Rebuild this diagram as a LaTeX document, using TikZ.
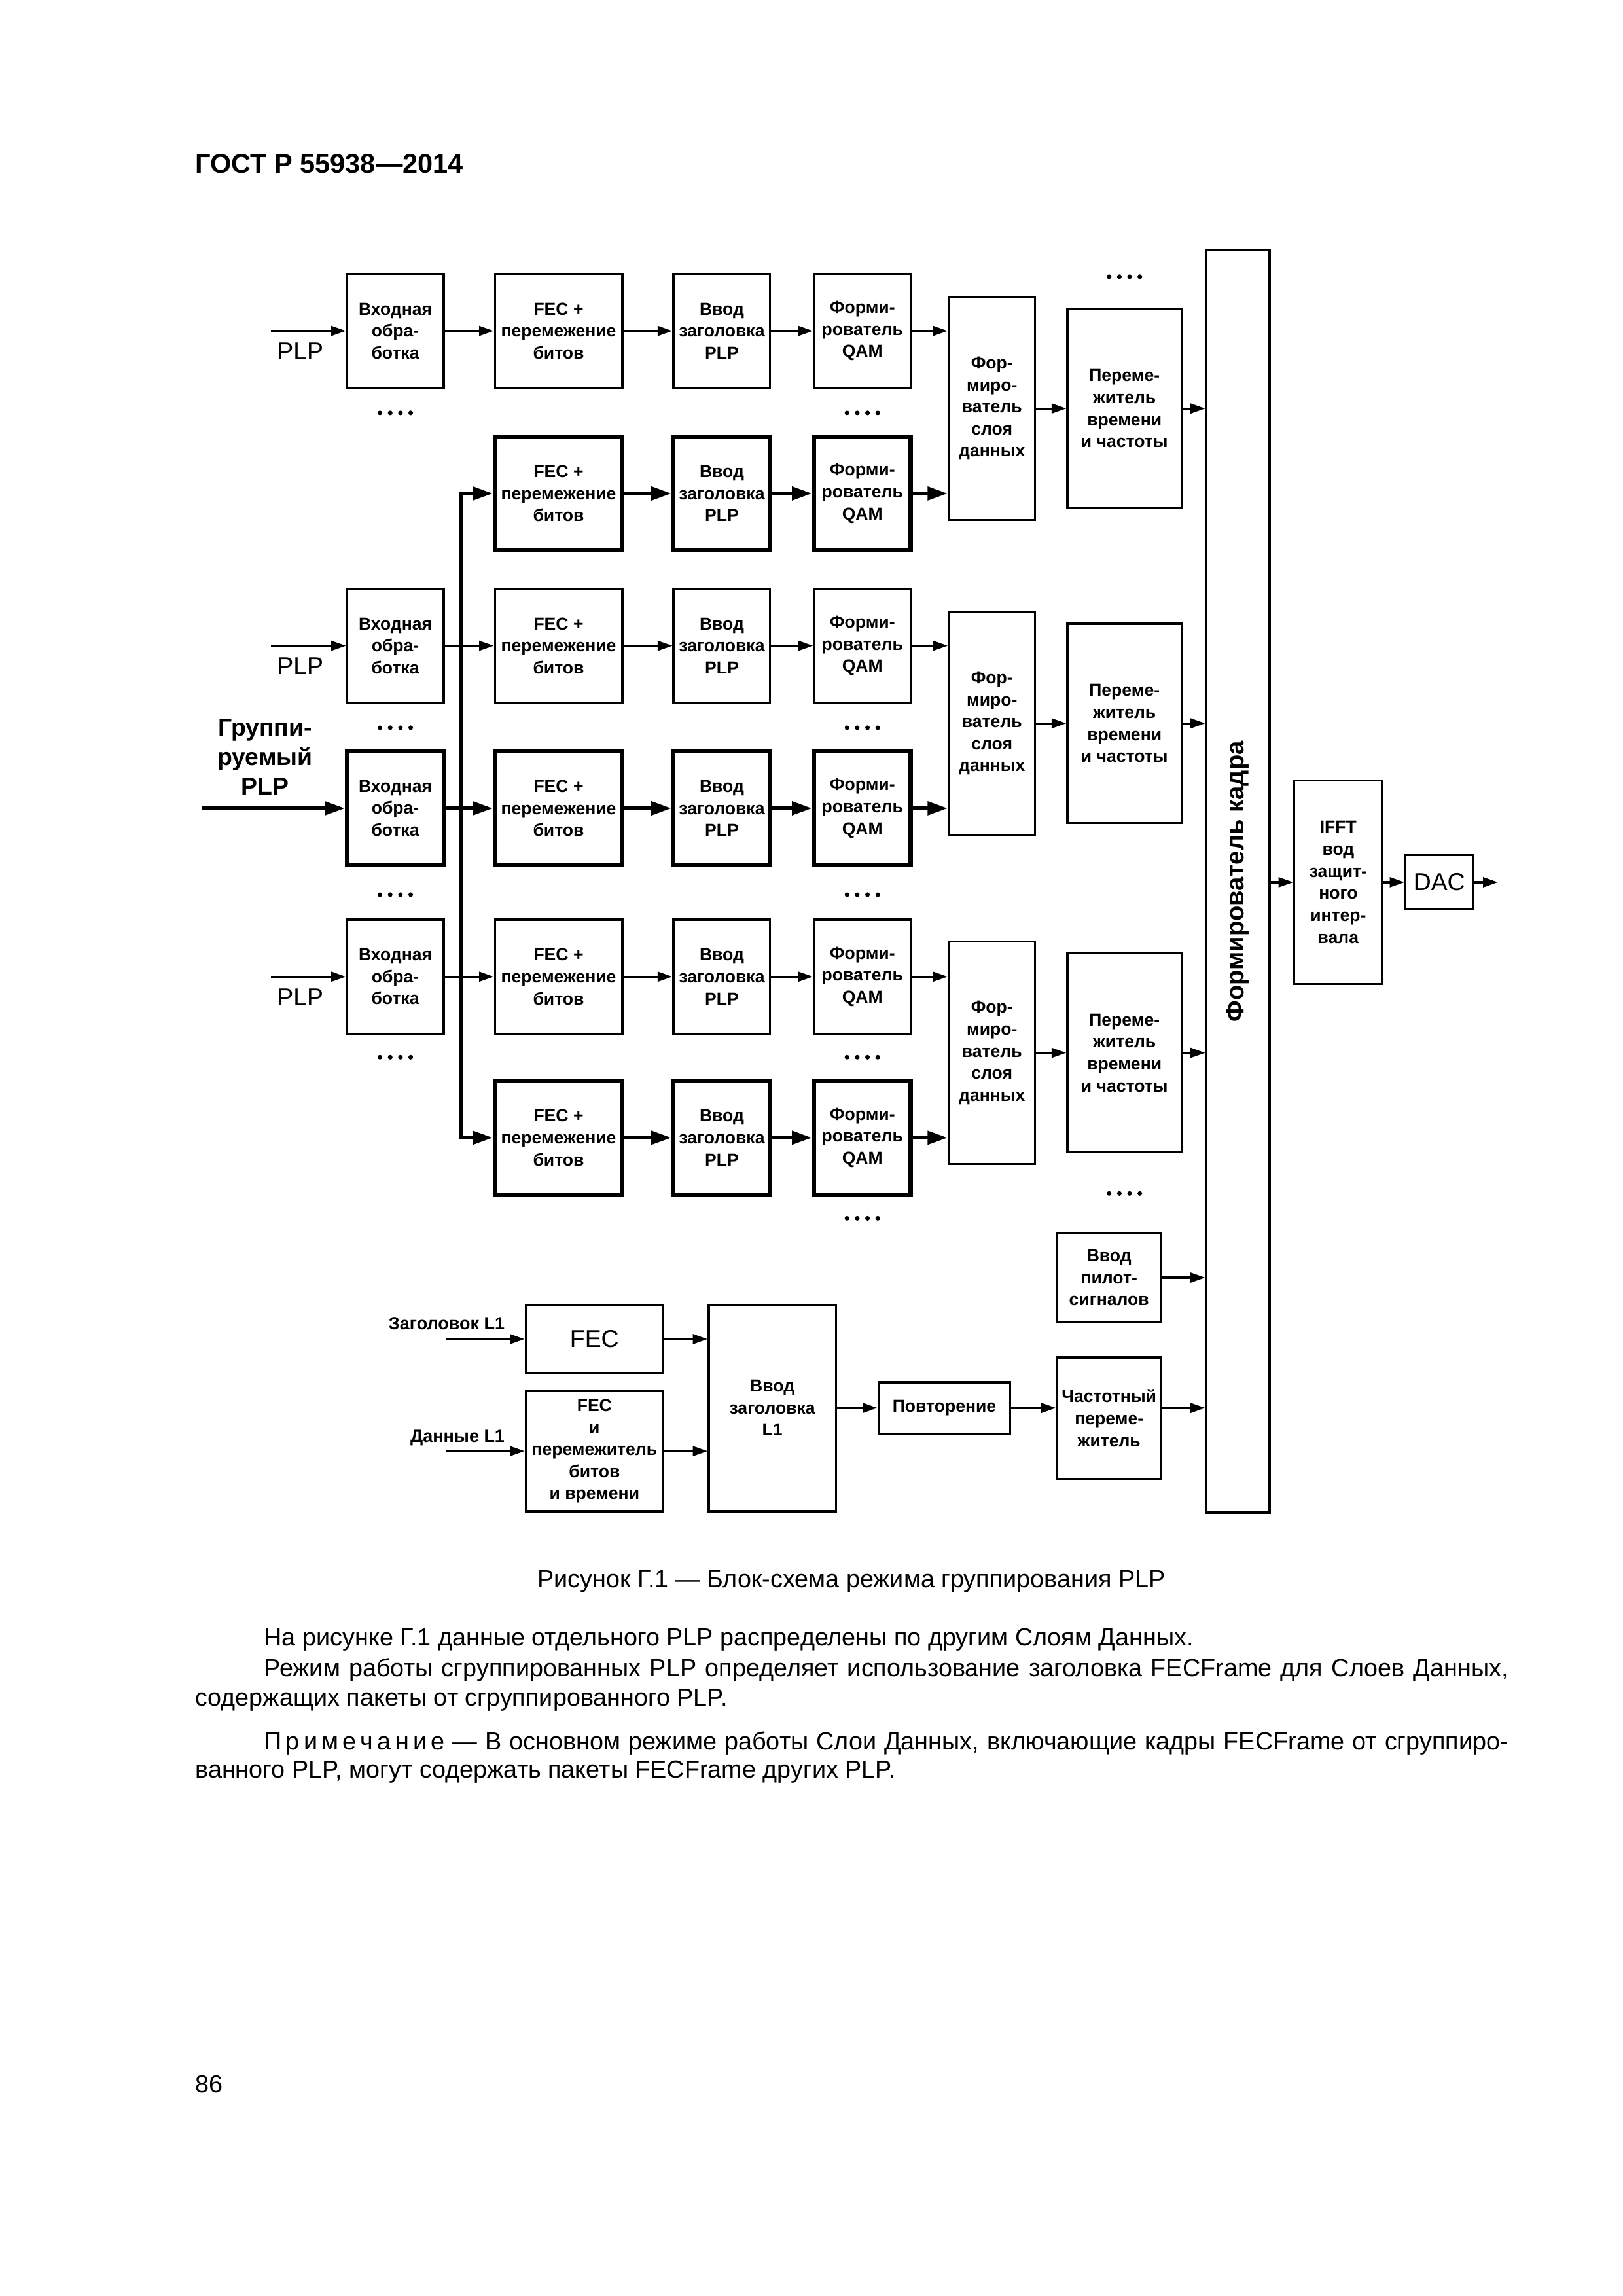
\documentclass[tikz,border=0pt]{standalone}
\usepackage{fontspec}
\setmainfont{Liberation Sans}
\usetikzlibrary{arrows.meta,positioning}

\newcommand{\du}{0.18945mm}
\newcommand{\fourdots}[2]{\foreach \k in {-1.5,-0.5,0.5,1.5} \fill ({#1+\k*7},#2) circle[radius=0.3mm];}

\tikzset{
  blk/.style 2 args={draw, line width=0.8pt, minimum width=#1*\du, minimum height=#2*\du,
    inner sep=0pt, align=center, font=\fontsize{6.4}{8.1}\selectfont\bfseries},
  arr/.style={line width=0.8pt, -{Triangle[length=0.97mm 3.33, width=0.65mm 2.14]}},
  txt/.style={inner sep=0pt, font=\fontsize{9.1}{11}\selectfont},
}

\begin{document}
\begin{tikzpicture}[x=\du,y=-\du]
    \useasboundingbox (0,0) rectangle (1108.5,1568);
    \node[anchor=west, inner sep=0pt, font=\fontsize{10}{12}\selectfont\bfseries] (title) at (133,112) {ГОСТ Р 55938—2014};

    % input processing blocks
    \foreach \r/\yy/\lw in {1/226/0.8pt,3/441/0.8pt,4/552/1.5pt,5/667/0.8pt}
        \node[blk={66}{78}, line width=\lw] (A\r) at (270,\yy) {Входная\\обра-\\ботка};
    % FEC, header insertion and QAM in every row
    \foreach \r/\yy/\lw in {1/226/0.8pt,2/337/1.5pt,3/441/0.8pt,4/552/1.5pt,5/667/0.8pt,6/777/1.5pt} {
        \node[blk={87}{78}, line width=\lw] (B\r) at (381.5,\yy) {FEC +\\перемежение\\битов};
        \node[blk={66}{78}, line width=\lw] (C\r) at (493,\yy) {Ввод\\заголовка\\PLP};
        \node[blk={66}{78}, line width=\lw] (D\r) at (589,\yy) {Форми-\\рователь\\QAM};
    }
    % data slice builders and interleavers
    \foreach \e/\yy in {1/279,2/494,3/719} {
        \node[blk={59}{152}] (E\e) at (677.5,\yy) {Фор-\\миро-\\ватель\\слоя\\данных};
        \node[blk={78}{136}] (F\e) at (768,\yy) {Переме-\\житель\\времени\\и частоты};
    }

    \node[draw, line width=0.9pt, minimum width=43*\du, minimum height=862*\du] (frame) at (845.5,602) {};
    \node[rotate=90, font=\fontsize{9.2}{11}\selectfont\bfseries] (frametxt) at (frame.center) {Формирователь кадра};
    \node[blk={60}{139}] (ifft) at (914,602.5) {IFFT\\вод\\защит-\\ного\\интер-\\вала};
    \node[blk={46}{37}, font=\fontsize{9}{11}\selectfont] (dac) at (983,602.5) {DAC};
    \coordinate (out) at (1023,602.5);

    % inputs
    \foreach \r/\yy in {1/226,3/441,5/667} {
        \coordinate (in\r) at (185,\yy);
        \node[inner sep=0pt, font=\fontsize{9}{11}\selectfont] (plp\r) at (205,\yy+14) {PLP};
    }
    \coordinate (in4) at (138,552);
    \node[align=center, inner sep=0pt, font=\fontsize{9}{10.8}\selectfont\bfseries] (grp) at (181,517) {Группи-\\руемый\\PLP};

    \foreach \r in {1,3,5} {
        \draw[arr] (in\r) -- (A\r);
        \draw[arr] (A\r) -- (B\r);
    }
    \draw[arr, line width=1.4pt] (in4) -- (A4);
    \draw[arr, line width=1.4pt] (A4) -- (B4);

    % bus of the grouped PLP
    \coordinate (bus2) at (315,337);
    \coordinate (bus6) at (315,777);
    \draw[line width=1.2pt, line cap=rect] (bus2) -- (bus6);
    \draw[arr, line width=1.4pt] (bus2) -- (B2);
    \draw[arr, line width=1.4pt] (bus6) -- (B6);

    \foreach \r/\e/\lw in {1/1/0.8pt,2/1/1.4pt,3/2/0.8pt,4/2/1.4pt,5/3/0.8pt,6/3/1.4pt} {
        \draw[arr, line width=\lw] (B\r) -- (C\r);
        \draw[arr, line width=\lw] (C\r) -- (D\r);
        \draw[arr, line width=\lw] (D\r) -- (D\r -| E\e.west);
    }
    \foreach \e in {1,2,3} {
        \draw[arr] (E\e) -- (F\e);
        \draw[arr] (F\e) -- (F\e -| frame.west);
    }

    \draw[arr] (ifft -| frame.east) -- (ifft);
    \draw[arr] (ifft) -- (dac);
    \draw[arr] (dac) -- (out);

    % L1 signalling
    \node[blk={71}{61}] (pil) at (757.5,872.5) {Ввод\\пилот-\\сигналов};
    \node[blk={71}{83}] (fint) at (757.5,968.5) {Частотный\\переме-\\житель};
    \node[blk={90}{35}] (rep) at (645,961.5) {Повторение};
    \node[blk={87}{141}] (l1in) at (527.5,961.5) {Ввод\\заголовка\\L1};
    \node[blk={94}{47}, font=\fontsize{9}{11}\selectfont] (l1fec) at (406,914.5) {FEC};
    \node[blk={94}{82}] (l1fbi) at (406,991) {FEC\\и\\перемежитель\\битов\\и времени};
    \node[anchor=east, inner sep=0pt, font=\fontsize{6.5}{8}\selectfont\bfseries] (hdrl1) at (345,904) {Заголовок L1};
    \node[anchor=east, inner sep=0pt, font=\fontsize{6.5}{8}\selectfont\bfseries] (datl1) at (345,982) {Данные L1};
    \coordinate (inh) at (305,914.5);
    \coordinate (ind) at (305,991);

    \draw[arr] (inh) -- (l1fec);
    \draw[arr] (ind) -- (l1fbi);
    \draw[arr] (l1fec) -- (l1fec -| l1in.west);
    \draw[arr] (l1fbi) -- (l1fbi -| l1in.west);
    \draw[arr] (l1in) -- (rep);
    \draw[arr] (rep) -- (rep -| fint.west);
    \draw[arr] (rep -| fint.east) -- (rep -| frame.west);
    \draw[arr] (pil) -- (pil -| frame.west);

    % dots
    \fourdots{768}{189}
    \fourdots{768}{815}
    \foreach \yy in {282,497,611,722} {
        \fourdots{270}{\yy}
        \fourdots{589}{\yy}
    }
    \fourdots{589}{832}

    % caption and text
    \node[txt] (cap) at (581.5,1080) {Рисунок Г.1 — Блок-схема режима группирования PLP};
    \node[txt, anchor=base west] (par1) at (180,1124) {На рисунке Г.1 данные отдельного PLP распределены по другим Слоям Данных.};
    \node[txt, anchor=base west] (par2) at (180,1145) {\makebox[161mm][s]{Режим работы сгруппированных PLP определяет использование заголовка FECFrame для Слоев Данных,}};
    \node[txt, anchor=base west] (par3) at (133,1165) {содержащих пакеты от сгруппированного PLP.};
    \node[txt, anchor=base west] (note1) at (180,1195) {\makebox[161mm][s]{П\kern1.5ptр\kern1.5ptи\kern1.5ptм\kern1.5ptе\kern1.5ptч\kern1.5ptа\kern1.5ptн\kern1.5ptи\kern1.5ptе — В основном режиме работы Слои Данных, включающие кадры FECFrame от сгруппиро-}};
    \node[txt, anchor=base west] (note2) at (133,1214) {ванного PLP, могут содержать пакеты FECFrame других PLP.};
    \node[txt, anchor=base west] (page) at (133,1429) {86};
\end{tikzpicture}
\end{document}
